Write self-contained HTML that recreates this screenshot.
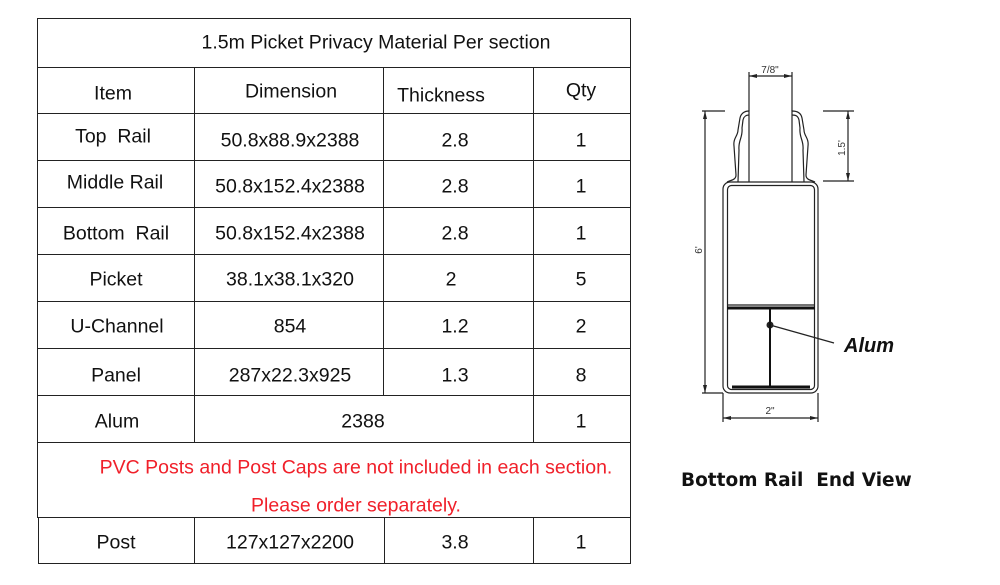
<!DOCTYPE html>
<html><head><style>
body{margin:0;width:1000px;height:585px;background:#fff;position:relative;overflow:hidden;font-family:"Liberation Sans",Arial,sans-serif;}
.h{position:absolute;height:0;border-top:1.5px solid #222;}
.v{position:absolute;width:0;border-left:1.5px solid #222;}
.t{position:absolute;font-size:19.5px;color:#111;text-align:center;transform:translate(-50%,-50%);white-space:nowrap;}
.r{color:#f0202a;}
</style></head><body>
<div class="h" style="left:37px;top:18px;width:594px"></div>
<div class="h" style="left:37px;top:67px;width:594px"></div>
<div class="h" style="left:37px;top:113px;width:594px"></div>
<div class="h" style="left:37px;top:160px;width:594px"></div>
<div class="h" style="left:37px;top:207px;width:594px"></div>
<div class="h" style="left:37px;top:254px;width:594px"></div>
<div class="h" style="left:37px;top:301px;width:594px"></div>
<div class="h" style="left:37px;top:348px;width:594px"></div>
<div class="h" style="left:37px;top:395px;width:594px"></div>
<div class="h" style="left:37px;top:442px;width:594px"></div>
<div class="h" style="left:37px;top:517px;width:594px"></div>
<div class="h" style="left:38px;top:563px;width:593px"></div>
<div class="v" style="left:37px;top:18px;height:500px"></div>
<div class="v" style="left:38px;top:517px;height:46px"></div>
<div class="v" style="left:630px;top:18px;height:545px"></div>
<div class="v" style="left:194px;top:67px;height:375px"></div>
<div class="v" style="left:383px;top:67px;height:328px"></div>
<div class="v" style="left:533px;top:67px;height:375px"></div>
<div class="v" style="left:194px;top:517px;height:46px"></div>
<div class="v" style="left:384px;top:517px;height:46px"></div>
<div class="v" style="left:533px;top:517px;height:46px"></div>
<div class="t" style="left:376px;top:43px">1.5m Picket Privacy Material Per section</div>
<div class="t" style="left:113px;top:94px">Item</div>
<div class="t" style="left:291px;top:92px">Dimension</div>
<div class="t" style="left:441px;top:96px">Thickness</div>
<div class="t" style="left:581px;top:91px">Qty</div>
<div class="t" style="left:113px;top:137px">Top &nbsp;Rail</div>
<div class="t" style="left:290px;top:141px">50.8x88.9x2388</div>
<div class="t" style="left:455px;top:141px">2.8</div>
<div class="t" style="left:581px;top:141px">1</div>
<div class="t" style="left:115px;top:183px">Middle Rail</div>
<div class="t" style="left:290px;top:187px">50.8x152.4x2388</div>
<div class="t" style="left:455px;top:187px">2.8</div>
<div class="t" style="left:581px;top:187px">1</div>
<div class="t" style="left:116px;top:234px">Bottom &nbsp;Rail</div>
<div class="t" style="left:290px;top:234px">50.8x152.4x2388</div>
<div class="t" style="left:455px;top:234px">2.8</div>
<div class="t" style="left:581px;top:234px">1</div>
<div class="t" style="left:116px;top:280px">Picket</div>
<div class="t" style="left:290px;top:280px">38.1x38.1x320</div>
<div class="t" style="left:451px;top:280px">2</div>
<div class="t" style="left:581px;top:280px">5</div>
<div class="t" style="left:117px;top:327px">U-Channel</div>
<div class="t" style="left:290px;top:327px">854</div>
<div class="t" style="left:455px;top:327px">1.2</div>
<div class="t" style="left:581px;top:327px">2</div>
<div class="t" style="left:116px;top:376px">Panel</div>
<div class="t" style="left:290px;top:376px">287x22.3x925</div>
<div class="t" style="left:455px;top:376px">1.3</div>
<div class="t" style="left:581px;top:376px">8</div>
<div class="t" style="left:117px;top:422px">Alum</div>
<div class="t" style="left:363px;top:422px">2388</div>
<div class="t" style="left:581px;top:422px">1</div>
<div class="t r" style="left:356px;top:468px">PVC Posts and Post Caps are not included in each section.</div>
<div class="t r" style="left:356px;top:506px">Please order separately.</div>
<div class="t" style="left:116px;top:543px">Post</div>
<div class="t" style="left:290px;top:543px">127x127x2200</div>
<div class="t" style="left:455px;top:543px">3.8</div>
<div class="t" style="left:581px;top:543px">1</div>

<svg style="position:absolute;left:0;top:0" width="1000" height="585">
<g fill="none" stroke="#222" stroke-width="1.2">
<rect x="723" y="182" width="95" height="211" rx="7"/>
<rect x="727.5" y="185.5" width="87" height="204" rx="4"/>
<line x1="727" y1="305" x2="815" y2="305"/>
<path d="M727,182 C731,180 736,180 736,175 L734,146 C733,138 738,136 738,130 L740,118 C741,113 745,111 749,111 L749,182"/>
<path d="M738,182 L739,150 C738,140 743,138 742,128 L743,120 C744,116 746,115 749,115"/>
<path d="M815,182 C811,180 806,180 806,175 L808,146 C809,138 804,136 804,130 L802,118 C801,113 797,111 792,111 L792,182"/>
<path d="M804,182 L803,150 C804,140 799,138 800,128 L799,120 C798,116 796,115 792,115"/>
<line x1="749" y1="111" x2="749" y2="72"/>
<line x1="792" y1="111" x2="792" y2="72"/>
<line x1="749" y1="76" x2="792" y2="76"/>
<line x1="823" y1="111" x2="854" y2="111"/>
<line x1="823" y1="181" x2="854" y2="181"/>
<line x1="848" y1="111" x2="848" y2="181"/>
<line x1="702" y1="111" x2="725" y2="111"/>
<line x1="702" y1="393" x2="723" y2="393"/>
<line x1="705" y1="111" x2="705" y2="393"/>
<line x1="723" y1="393" x2="723" y2="422"/>
<line x1="818" y1="393" x2="818" y2="422"/>
<line x1="723" y1="418" x2="818" y2="418"/>
<line x1="770" y1="325" x2="834" y2="343"/>
</g>
<g fill="#222">
<path d="M705,111 l-2,8 h4z M705,393 l-2,-8 h4z M848,111 l-2,8 h4z M848,181 l-2,-8 h4z M723,418 l8,-2 v4z M818,418 l-8,-2 v4z M749,76 l8,-2 v4z M792,76 l-8,-2 v4z"/>
<circle cx="770" cy="325" r="3.5"/>
</g>
<g stroke="#111">
<line x1="727" y1="308" x2="815" y2="308" stroke-width="3"/>
<line x1="770" y1="308" x2="770" y2="387" stroke-width="2"/>
<line x1="732" y1="387" x2="810" y2="387" stroke-width="3"/>
</g>
<g font-family="Liberation Sans, sans-serif" font-size="10" fill="#333">
<text x="770" y="73" text-anchor="middle">7/8"</text>
<text x="770" y="414" text-anchor="middle">2"</text>
<text transform="translate(845,148) rotate(-90)" text-anchor="middle">1.5'</text>
<text transform="translate(702,250) rotate(-90)" text-anchor="middle">6'</text>
</g>
<text x="844" y="352" font-family="Liberation Sans, sans-serif" font-size="20" font-style="italic" font-weight="bold" fill="#111">Alum</text>
<text x="681" y="486" font-family="DejaVu Sans, sans-serif" font-size="18.5" font-weight="bold" fill="#111">Bottom Rail&#160; End View</text>
</svg>
</body></html>
